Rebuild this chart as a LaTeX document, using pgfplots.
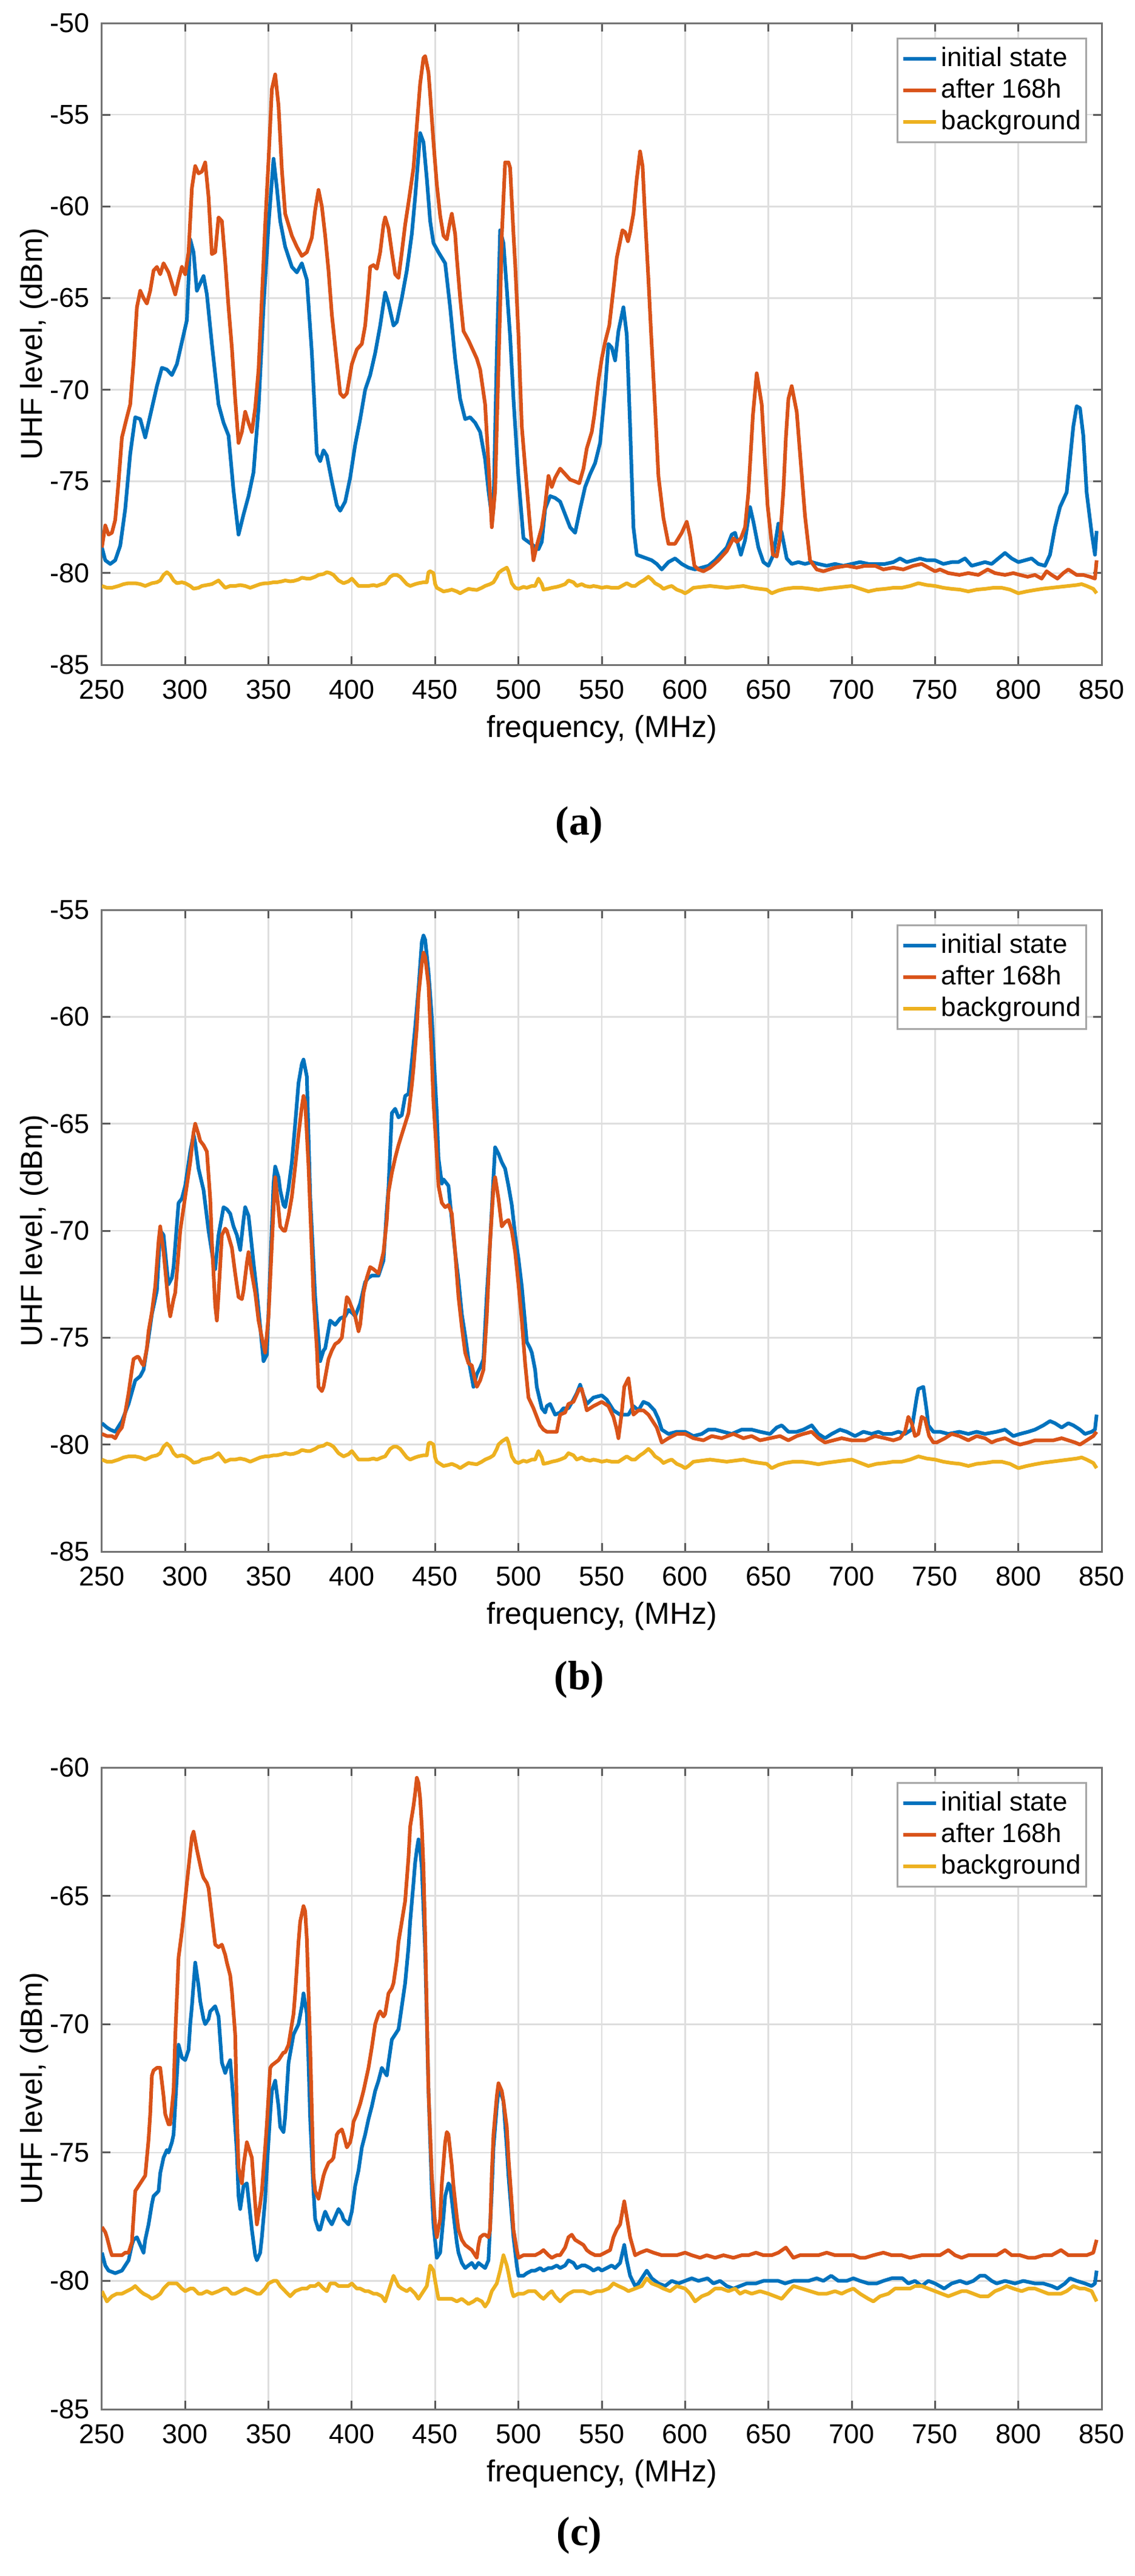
\documentclass[border=0pt]{standalone}
\usepackage{fontspec}
\setmainfont{Liberation Sans}
\newfontfamily\serifbf{Liberation Serif}
\usepackage{pgfplots}
\usepackage{pgfplotstable}
\pgfplotsset{compat=1.18}
\definecolor{mblue}{HTML}{0072BD}
\definecolor{mred}{HTML}{D95319}
\definecolor{myellow}{HTML}{EDB120}

% ---------------- panel (a) ----------------
\pgfplotstableread[row sep=\\]{f v\\
250 -78.6\\ 252 -79.3\\ 255 -79.5\\ 258 -79.3\\ 261 -78.5\\ 264 -76.5\\ 267 -73.5\\ 270 -71.5\\ 273 -71.6\\ 276 -72.6\\
280 -71.0\\ 283 -69.8\\ 286 -68.8\\ 289 -68.9\\ 292 -69.2\\ 295 -68.6\\ 298 -67.4\\ 301 -66.2\\ 303 -61.8\\ 305 -62.5\\
307 -64.6\\ 309 -64.2\\ 311 -63.8\\ 313 -64.8\\ 316 -67.5\\ 320 -70.8\\ 323 -71.8\\ 326 -72.5\\ 329 -75.5\\ 332 -77.9\\
335 -76.8\\ 338 -75.8\\ 341 -74.5\\ 344 -71\\ 347 -65.5\\ 350 -61\\ 353 -57.4\\ 355 -59\\ 357 -60.8\\ 360 -62.2\\
364 -63.3\\ 367 -63.6\\ 370 -63.1\\ 373 -64\\ 376 -68\\ 379 -73.5\\ 381 -73.9\\ 383 -73.3\\ 385 -73.6\\ 388 -75\\
391 -76.3\\ 393 -76.6\\ 396 -76.1\\ 399 -74.8\\ 402 -73\\ 405 -71.6\\ 408 -70\\ 411 -69.2\\ 414 -68\\ 417 -66.5\\
420 -64.7\\ 422 -65.3\\ 425 -66.5\\ 427 -66.3\\ 430 -65\\ 433 -63.5\\ 436 -61.5\\ 438 -59.5\\ 440 -57.2\\ 441 -56\\
443 -56.5\\ 445 -58.5\\ 447 -60.8\\ 449 -62\\ 452 -62.5\\ 456 -63.1\\ 459 -65.5\\ 462 -68.3\\ 465 -70.5\\ 468 -71.6\\
471 -71.5\\ 474 -71.8\\ 477 -72.3\\ 480 -73.8\\ 482 -75.5\\ 484 -76.9\\ 485 -76.5\\ 487 -68\\ 489 -61.3\\ 491 -62\\
493 -64.5\\ 495 -67.1\\ 497 -70.5\\ 500 -74.8\\ 503 -78.1\\ 506 -78.3\\ 509 -78.5\\ 512 -78.7\\ 514 -78.3\\ 516 -76.5\\
519 -75.8\\ 522 -75.9\\ 525 -76.1\\ 528 -76.8\\ 531 -77.5\\ 534 -77.8\\ 537 -76.5\\ 540 -75.3\\ 543 -74.6\\ 546 -74.0\\
549 -72.9\\ 552 -70\\ 554 -67.5\\ 556 -67.7\\ 558 -68.4\\ 560 -66.8\\ 563 -65.5\\ 565 -67\\ 567 -72\\ 569 -77.5\\
571 -79\\ 574 -79.1\\ 577 -79.2\\ 580 -79.3\\ 583 -79.5\\ 586 -79.8\\ 590 -79.4\\ 594 -79.2\\ 598 -79.5\\ 602 -79.7\\
606 -79.8\\ 610 -79.7\\ 614 -79.6\\ 618 -79.3\\ 622 -78.9\\ 625 -78.6\\ 628 -77.9\\ 630 -77.8\\ 632 -78.5\\ 633.5 -79\\
636 -78.2\\ 639 -76.4\\ 641 -77.2\\ 644 -78.6\\ 647 -79.4\\ 650 -79.6\\ 653 -79\\ 656 -77.3\\ 658 -77.8\\ 661 -79.2\\
664 -79.5\\ 668 -79.4\\ 672 -79.5\\ 676 -79.4\\ 680 -79.5\\ 685 -79.6\\ 690 -79.5\\ 695 -79.6\\ 700 -79.5\\ 705 -79.4\\
710 -79.5\\ 715 -79.5\\ 720 -79.5\\ 725 -79.4\\ 729 -79.2\\ 733 -79.4\\ 737 -79.3\\ 741 -79.2\\ 745 -79.3\\ 750 -79.3\\
755 -79.5\\ 760 -79.4\\ 764 -79.4\\ 768 -79.2\\ 772 -79.6\\ 776 -79.5\\ 780 -79.4\\ 784 -79.5\\ 788 -79.2\\ 792 -78.9\\
796 -79.2\\ 800 -79.4\\ 804 -79.3\\ 808 -79.2\\ 812 -79.5\\ 816 -79.6\\ 819 -79.0\\ 822 -77.5\\ 825 -76.4\\ 829 -75.6\\
831 -73.8\\ 833 -72\\ 835 -70.9\\ 837 -71\\ 839 -72.5\\ 841 -75.6\\ 844 -77.8\\ 846 -79\\ 847 -77.7\\
}\aInit

\pgfplotstableread[row sep=\\]{f v\\
250 -78.6\\ 252 -77.4\\ 254 -77.9\\ 256 -77.8\\ 258 -77.1\\ 260 -75\\ 262 -72.6\\ 265 -71.5\\ 267 -70.8\\ 269 -68.5\\
271 -65.5\\ 273 -64.6\\ 275 -65.0\\ 277 -65.3\\ 279 -64.6\\ 281 -63.5\\ 283 -63.3\\ 285 -63.7\\ 287 -63.1\\ 290 -63.6\\
292 -64.2\\ 294 -64.8\\ 296 -64\\ 298 -63.3\\ 300 -63.7\\ 302 -62.5\\ 304 -59\\ 306 -57.8\\ 308 -58.2\\ 310 -58.1\\
312 -57.6\\ 314 -59.5\\ 316 -62.6\\ 318 -62.5\\ 320 -60.6\\ 322 -60.8\\ 324 -63\\ 326 -65.5\\ 328 -67.7\\ 330 -70.5\\
332 -72.9\\ 334 -72.3\\ 336 -71.2\\ 338 -71.8\\ 340 -72.3\\ 342 -71\\ 344 -68.9\\ 346 -65\\ 348 -61\\ 350 -57.5\\
352 -53.6\\ 354 -52.8\\ 356 -54.5\\ 358 -58\\ 360 -60.4\\ 362 -61\\ 364 -61.6\\ 367 -62.2\\ 370 -62.7\\ 373 -62.5\\
376 -61.7\\ 378 -60.2\\ 380 -59.1\\ 382 -60\\ 384 -61.6\\ 386 -63.5\\ 388 -65.9\\ 391 -68.5\\ 393 -70.2\\ 395 -70.4\\
397 -70.2\\ 400 -68.6\\ 403 -67.8\\ 406 -67.5\\ 408 -66.5\\ 410 -64.5\\ 411 -63.3\\ 413 -63.2\\ 415 -63.4\\ 417 -62.5\\
419 -61\\ 420 -60.6\\ 422 -61.2\\ 424 -62.5\\ 426 -63.7\\ 428 -63.9\\ 430 -62.5\\ 432 -61\\ 434 -59.8\\ 437 -57.9\\
439 -55.6\\ 441 -53.3\\ 443 -51.9\\ 444 -51.8\\ 446 -52.7\\ 447 -53.9\\ 449 -56.5\\ 451 -58.8\\ 453 -60.5\\ 455 -61.6\\
457 -61.8\\ 459 -60.8\\ 460 -60.4\\ 462 -61.5\\ 463 -62.8\\ 465 -65\\ 467 -66.8\\ 470 -67.3\\ 472 -67.7\\ 475 -68.3\\
477 -68.9\\ 480 -70.8\\ 482 -74\\ 484 -77.5\\ 486 -75.5\\ 487 -72\\ 489 -65.5\\ 490 -61.6\\ 492 -57.6\\ 494 -57.6\\
495 -57.9\\ 497 -61.5\\ 498 -63.1\\ 500 -67\\ 502 -72\\ 505 -75.3\\ 507 -77.5\\ 509 -79.3\\ 511 -78.5\\ 514 -77.5\\
516 -76.3\\ 518 -74.7\\ 520 -75.3\\ 522 -74.8\\ 525 -74.3\\ 528 -74.6\\ 531 -74.9\\ 534 -75.0\\ 536.5 -75.1\\ 539 -74.3\\
541 -73.2\\ 544 -72.3\\ 545.5 -71.4\\ 548 -69.5\\ 550 -68.3\\ 552 -67.4\\ 554.5 -66.5\\ 557 -64.5\\ 559 -62.8\\ 562.4 -61.3\\
564 -61.4\\ 565.7 -61.9\\ 567 -61.4\\ 569 -60.4\\ 571 -58.5\\ 573 -57\\ 574.5 -57.8\\ 576 -60.6\\ 578 -64\\ 579.7 -67.1\\
582 -71\\ 584 -74.7\\ 587 -77\\ 590 -78.4\\ 594 -78.4\\ 598 -77.8\\ 601 -77.2\\ 603 -78\\ 605.6 -79.6\\ 608 -79.8\\
611 -79.9\\ 615 -79.7\\ 620 -79.3\\ 625 -78.8\\ 629 -78.1\\ 631 -78.3\\ 633.5 -78.1\\ 636 -77.5\\ 638 -75.6\\ 640.7 -71.4\\
643 -69.1\\ 646 -70.8\\ 648 -74\\ 649.5 -76.3\\ 652.7 -79\\ 655 -79.1\\ 657 -78.1\\ 659 -75.5\\ 660.5 -72.6\\ 662 -70.5\\
664 -69.8\\ 667 -71.2\\ 669 -73.5\\ 672 -76.9\\ 675 -79.3\\ 679 -79.8\\ 683 -79.9\\ 690 -79.7\\ 697 -79.6\\ 703 -79.7\\
708 -79.6\\ 714 -79.6\\ 719 -79.8\\ 725 -79.7\\ 731 -79.8\\ 737 -79.6\\ 742 -79.5\\ 746 -79.7\\ 750 -79.9\\ 753 -79.8\\
758 -80\\ 764.6 -80.1\\ 770 -80\\ 776 -80.1\\ 781.6 -79.8\\ 786 -80\\ 792 -80.1\\ 797 -80\\ 801 -80.1\\ 805.6 -80.2\\
810 -80.1\\ 814 -80.3\\ 817 -79.9\\ 820 -80.1\\ 823.5 -80.3\\ 827 -80\\ 830 -79.8\\ 835 -80.1\\ 839 -80.1\\ 843 -80.2\\
846 -80.3\\ 847 -79.3\\
}\aAfter

% background of panels (a) and (b)
\pgfplotstableread[row sep=\\]{f v\\
250 -80.7\\ 253 -80.8\\ 256 -80.8\\ 260 -80.7\\ 263 -80.6\\ 266 -80.55\\ 270 -80.55\\ 273 -80.6\\ 276 -80.7\\ 280 -80.55\\
283 -80.5\\ 285 -80.4\\ 287 -80.1\\ 289 -79.95\\ 291 -80.1\\ 293 -80.4\\ 295 -80.55\\ 298 -80.5\\ 300 -80.55\\ 303 -80.7\\
305 -80.85\\ 308 -80.8\\ 310 -80.7\\ 313 -80.65\\ 316 -80.6\\ 318 -80.5\\ 320 -80.4\\ 322 -80.6\\ 324 -80.8\\ 327 -80.7\\
330 -80.7\\ 333 -80.65\\ 336 -80.7\\ 339 -80.8\\ 342 -80.7\\ 345 -80.6\\ 348 -80.55\\ 350 -80.55\\ 353 -80.5\\ 355 -80.5\\
358 -80.45\\ 360 -80.4\\ 363 -80.45\\ 365 -80.43\\ 368 -80.35\\ 370 -80.25\\ 373 -80.3\\ 375 -80.3\\ 378 -80.2\\ 380 -80.1\\
383 -80.05\\ 385 -79.95\\ 387 -80.0\\ 389 -80.1\\ 392 -80.4\\ 395 -80.55\\ 398 -80.45\\ 400 -80.3\\ 402 -80.5\\ 404 -80.7\\
407 -80.7\\ 410 -80.7\\ 413 -80.65\\ 415 -80.7\\ 418 -80.6\\ 420 -80.55\\ 423 -80.2\\ 425 -80.1\\ 427 -80.1\\ 429 -80.2\\
431 -80.4\\ 433 -80.6\\ 435 -80.7\\ 438 -80.6\\ 440 -80.55\\ 443 -80.5\\ 445 -80.5\\ 446 -79.95\\ 447 -79.9\\ 449 -80.0\\
450 -80.6\\ 451 -80.8\\ 453 -80.9\\ 455 -81.0\\ 458 -80.95\\ 460 -80.9\\ 463 -81.0\\ 465 -81.1\\ 467 -81.0\\ 470 -80.86\\
473 -80.9\\ 475 -80.92\\ 478 -80.8\\ 480 -80.7\\ 483 -80.6\\ 485 -80.5\\ 487 -80.2\\ 488 -80.0\\ 490 -79.85\\ 491 -79.8\\
493 -79.7\\ 494 -79.9\\ 496 -80.55\\ 498 -80.8\\ 500 -80.86\\ 503 -80.75\\ 505 -80.8\\ 508 -80.7\\ 510 -80.7\\ 512 -80.3\\
514 -80.6\\ 515 -80.9\\ 518 -80.85\\ 520 -80.8\\ 523 -80.75\\ 525 -80.7\\ 528 -80.6\\ 530 -80.4\\ 533 -80.5\\ 535 -80.7\\
538 -80.6\\ 540 -80.7\\ 543 -80.75\\ 545 -80.7\\ 548 -80.75\\ 550 -80.8\\ 553 -80.75\\ 556 -80.8\\ 560 -80.8\\ 563 -80.65\\
565 -80.55\\ 568 -80.7\\ 570 -80.7\\ 573 -80.5\\ 575 -80.4\\ 578 -80.2\\ 580 -80.35\\ 582 -80.55\\ 585 -80.7\\ 587 -80.86\\
590 -80.75\\ 592 -80.7\\ 595 -80.9\\ 598 -81.0\\ 600 -81.1\\ 602 -81.0\\ 605 -80.8\\ 610 -80.75\\ 615 -80.7\\ 620 -80.75\\
625 -80.8\\ 630 -80.75\\ 635 -80.7\\ 640 -80.8\\ 645 -80.86\\ 649 -80.9\\ 652 -81.1\\ 656 -80.95\\ 660 -80.86\\ 665 -80.8\\
670 -80.8\\ 675 -80.85\\ 680 -80.92\\ 685 -80.85\\ 690 -80.8\\ 695 -80.75\\ 700 -80.7\\ 705 -80.85\\ 710 -81.0\\ 715 -80.9\\
720 -80.86\\ 725 -80.8\\ 730 -80.8\\ 735 -80.7\\ 740 -80.55\\ 745 -80.65\\ 750 -80.7\\ 755 -80.8\\ 760 -80.86\\ 765 -80.9\\
770 -81.0\\ 775 -80.9\\ 780 -80.86\\ 785 -80.8\\ 790 -80.8\\ 795 -80.9\\ 800 -81.1\\ 805 -81.0\\ 810 -80.92\\ 815 -80.85\\
820 -80.8\\ 825 -80.75\\ 830 -80.7\\ 835 -80.65\\ 838 -80.6\\ 841 -80.7\\ 845 -80.86\\ 847 -81.1\\
}\abBack

% ---------------- panel (b) ----------------
\pgfplotstableread[row sep=\\]{f v\\
250 -79.0\\ 253 -79.2\\ 255 -79.3\\ 258 -79.4\\ 262 -78.9\\ 266 -78.1\\ 270 -77.0\\ 273 -76.8\\ 275 -76.5\\ 278 -75.0\\
280 -73.9\\ 283 -72.8\\ 285 -70.0\\ 287 -70.2\\ 289 -71.8\\ 290 -72.5\\ 292 -72.2\\ 293 -71.7\\ 296 -68.7\\ 298 -68.5\\
300 -67.9\\ 303 -66.3\\ 305 -65.5\\ 306 -65.9\\ 308 -67.1\\ 311 -68.1\\ 314 -70.0\\ 317 -71.5\\ 318 -71.8\\ 320 -70.2\\
323 -68.9\\ 325 -69.0\\ 327 -69.2\\ 329 -69.8\\ 331 -70.2\\ 333 -70.9\\ 335 -69.5\\ 336 -68.9\\ 338 -69.3\\ 339 -70\\
341 -71.5\\ 343 -72.9\\ 345 -74.5\\ 347 -76.1\\ 349 -75.8\\ 351 -71.8\\ 353 -67.8\\ 354 -67.0\\ 356 -67.5\\ 357 -68.1\\
359 -68.8\\ 360 -68.9\\ 362 -68.0\\ 364 -66.8\\ 366 -65\\ 368 -63.1\\ 370 -62.2\\ 371 -62.0\\ 373 -62.8\\ 375 -68.4\\
377 -71.5\\ 378 -73.1\\ 381 -76.1\\ 383 -75.6\\ 384 -75.5\\ 387 -74.2\\ 390 -74.4\\ 393 -74.1\\ 396 -74.0\\ 398 -73.7\\
401 -73.9\\ 402 -74.0\\ 405 -73.4\\ 408 -72.4\\ 410 -72.2\\ 412 -72.1\\ 416 -72.1\\ 419 -71.4\\ 421 -69.0\\ 422 -68.0\\
424 -64.5\\ 426 -64.3\\ 428 -64.7\\ 430 -64.6\\ 432 -63.7\\ 434 -63.6\\ 436 -62.1\\ 438 -60.5\\ 440 -58.7\\ 442 -56.5\\
443 -56.2\\ 444 -56.4\\ 446 -57.9\\ 448 -60\\ 449 -61.6\\ 451 -64.5\\ 452 -66.6\\ 454 -67.8\\ 455 -67.6\\ 457 -67.8\\
458 -67.9\\ 460 -69.5\\ 462 -71.0\\ 464 -72.3\\ 466 -73.9\\ 468 -74.9\\ 470 -76.0\\ 473 -77.3\\ 475 -76.7\\ 477 -76.4\\
479 -76.0\\ 481 -73\\ 483 -70.5\\ 485 -67.5\\ 486 -66.1\\ 488 -66.4\\ 490 -66.8\\ 492 -67.1\\ 494 -67.9\\ 496 -68.8\\
498 -70.2\\ 500 -71.3\\ 502 -72.6\\ 505 -75.2\\ 507 -75.5\\ 508 -75.7\\ 510 -76.5\\ 511 -77.3\\ 514 -78.3\\ 516 -78.5\\
517 -78.2\\ 519 -78.1\\ 522 -78.6\\ 525 -78.5\\ 527 -78.3\\ 530 -78.3\\ 533 -77.9\\ 535 -77.6\\ 537 -77.2\\ 539 -77.7\\
541 -78.1\\ 545 -77.8\\ 550 -77.7\\ 553 -77.9\\ 557 -78.4\\ 561 -78.6\\ 564 -78.6\\ 566 -78.6\\ 569 -78.2\\ 572 -78.4\\
575 -78.0\\ 578 -78.1\\ 581.6 -78.4\\ 584 -78.8\\ 586 -79.3\\ 590 -79.5\\ 595 -79.4\\ 600 -79.4\\ 605 -79.6\\ 610 -79.5\\
614 -79.3\\ 618 -79.3\\ 623 -79.4\\ 628 -79.5\\ 634 -79.3\\ 640 -79.3\\ 645 -79.4\\ 651 -79.5\\ 655 -79.2\\ 658 -79.1\\
662 -79.4\\ 667 -79.4\\ 671 -79.3\\ 676 -79.1\\ 680 -79.5\\ 684 -79.7\\ 688 -79.5\\ 693 -79.3\\ 697 -79.4\\ 702 -79.6\\
707 -79.4\\ 712 -79.5\\ 716 -79.4\\ 719 -79.5\\ 724 -79.5\\ 728 -79.4\\ 732 -79.5\\ 736 -79.3\\ 739 -77.8\\ 740 -77.4\\
743 -77.3\\ 745 -78.4\\ 746 -79.1\\ 749 -79.4\\ 753 -79.4\\ 758 -79.5\\ 764.6 -79.4\\ 770 -79.5\\ 775 -79.4\\ 780 -79.5\\
787 -79.4\\ 792 -79.3\\ 797 -79.6\\ 801 -79.5\\ 806 -79.4\\ 810 -79.3\\ 815 -79.1\\ 819 -78.9\\ 822 -79.0\\ 826 -79.2\\
830 -79.0\\ 833 -79.1\\ 837 -79.3\\ 840 -79.5\\ 844 -79.4\\ 846 -79.3\\ 847 -78.6\\
}\bInit

\pgfplotstableread[row sep=\\]{f v\\
250 -79.5\\ 253 -79.6\\ 256 -79.6\\ 258 -79.7\\ 260 -79.4\\ 262 -79.2\\ 264 -78.5\\ 266 -77.6\\ 268 -76.5\\ 269 -76.0\\
271 -75.9\\ 272 -75.9\\ 274 -76.2\\ 275 -76.3\\ 277 -75.5\\ 278 -74.7\\ 280 -73.8\\ 282 -72.6\\ 284 -70.5\\ 285 -69.8\\
287 -71\\ 288 -71.8\\ 290 -73.5\\ 291 -74.0\\ 293 -73.2\\ 294 -72.9\\ 296 -71.0\\ 297 -70.0\\ 300 -68.4\\ 303 -66.8\\
305 -65.4\\ 306 -65.0\\ 308 -65.5\\ 309 -65.8\\ 311 -66.0\\ 313 -66.3\\ 315 -68.5\\ 316 -70.5\\ 318 -73.5\\ 319 -74.2\\
320 -73.0\\ 322 -70.2\\ 324 -69.9\\ 325 -70.0\\ 328 -70.8\\ 330 -72\\ 332 -73.1\\ 334 -73.2\\ 335 -72.8\\ 337 -71.5\\
338 -71.0\\ 340 -72.0\\ 342 -72.9\\ 344 -74.2\\ 346 -75.0\\ 348 -75.7\\ 350 -74\\ 351 -72.3\\ 353 -69\\ 354 -67.5\\
356 -69\\ 357 -69.8\\ 359 -70.0\\ 360 -70.0\\ 362 -69.3\\ 364 -68.4\\ 366 -67\\ 368 -65.5\\ 370 -64.2\\ 371 -63.7\\
372 -64\\ 374 -67\\ 376 -71\\ 377 -73.1\\ 379 -75.5\\ 380 -77.3\\ 382 -77.5\\ 383 -77.3\\ 386 -76.0\\ 388 -75.6\\
390 -75.3\\ 392 -75.2\\ 394 -75.0\\ 397 -73.1\\ 398 -73.2\\ 400 -73.6\\ 402 -74.0\\ 404 -74.7\\ 405 -74.4\\ 407 -72.9\\
409 -72.2\\ 411 -71.7\\ 413 -71.8\\ 416 -72.0\\ 419 -71.0\\ 421 -69.5\\ 422 -68.2\\ 424 -67.3\\ 426 -66.6\\ 428 -66\\
430 -65.5\\ 432 -65\\ 434 -64.5\\ 436 -63.2\\ 437 -62.4\\ 439 -60.5\\ 440 -59.0\\ 442 -57.5\\ 443 -57.0\\ 444 -57.2\\
446 -58.5\\ 448 -62\\ 449 -64.0\\ 451 -66.5\\ 452 -67.9\\ 454 -68.7\\ 456 -68.9\\ 458 -68.8\\ 460 -69.2\\ 462 -71\\
464 -73.1\\ 466 -74.5\\ 468 -75.7\\ 470 -76.2\\ 472 -76.3\\ 474 -77\\ 475 -77.3\\ 477 -77.0\\ 479 -76.5\\ 481 -74\\
483 -70.5\\ 485 -68\\ 486 -67.5\\ 488 -68.5\\ 490 -69.8\\ 492 -69.6\\ 494 -69.5\\ 496 -70\\ 498 -71.0\\ 500 -72.5\\
502 -74.2\\ 504 -76.2\\ 506 -77.8\\ 509 -78.3\\ 511 -78.7\\ 513 -79.1\\ 515 -79.3\\ 517 -79.4\\ 520 -79.4\\ 523 -79.4\\
525 -78.6\\ 528 -78.5\\ 530 -78.1\\ 533 -78.0\\ 536.5 -77.4\\ 538 -77.4\\ 541 -78.4\\ 545 -78.2\\ 550 -78.0\\ 554 -78.2\\
557 -78.7\\ 559 -79.3\\ 560 -79.7\\ 562 -78.5\\ 563.5 -77.3\\ 566 -76.9\\ 567.5 -77.8\\ 569 -78.6\\ 572 -78.4\\ 575 -78.4\\
578 -78.6\\ 580.5 -78.9\\ 583 -79.2\\ 586 -79.9\\ 590 -79.7\\ 595 -79.5\\ 600 -79.5\\ 605 -79.7\\ 611 -79.8\\ 616 -79.6\\
622 -79.7\\ 629 -79.5\\ 635 -79.7\\ 640 -79.6\\ 645 -79.8\\ 651 -79.7\\ 657 -79.6\\ 662 -79.8\\ 667 -79.6\\ 671 -79.5\\
676 -79.4\\ 680 -79.7\\ 684 -79.9\\ 689 -79.8\\ 694 -79.7\\ 700 -79.8\\ 708 -79.8\\ 714 -79.6\\ 720 -79.7\\ 725 -79.8\\
729 -79.7\\ 732 -79.4\\ 734 -78.7\\ 736 -79.0\\ 738 -79.6\\ 740 -79.5\\ 742 -78.7\\ 744 -78.8\\ 746.5 -79.6\\ 749 -79.9\\
751 -79.9\\ 756 -79.7\\ 760 -79.5\\ 764.6 -79.6\\ 770 -79.8\\ 775 -79.6\\ 780 -79.7\\ 784 -79.9\\ 787 -79.8\\ 792 -79.7\\
797 -79.9\\ 801 -80.0\\ 806 -79.9\\ 810 -79.8\\ 815 -79.8\\ 821 -79.8\\ 826 -79.7\\ 830 -79.8\\ 834 -79.9\\ 837 -80.0\\
841 -79.8\\ 845 -79.6\\ 847 -79.4\\
}\bAfter

% ---------------- panel (c) ----------------
\pgfplotstableread[row sep=\\]{f v\\
250 -78.9\\ 252 -79.4\\ 254 -79.6\\ 258 -79.7\\ 262 -79.6\\ 264 -79.4\\ 266 -79.2\\ 268 -78.6\\ 269 -78.4\\ 271 -78.3\\
273 -78.6\\ 275 -78.9\\ 276 -78.4\\ 278 -77.8\\ 280 -77.0\\ 281 -76.7\\ 284 -76.5\\ 285 -75.8\\ 287 -75.2\\ 289 -74.9\\
290 -75.0\\ 292 -74.6\\ 293 -74.3\\ 295 -72\\ 296 -70.8\\ 298 -71.3\\ 300 -71.4\\ 302 -71.0\\ 303 -70.0\\ 304 -69.3\\
306 -67.6\\ 308 -68.5\\ 309 -69.1\\ 311 -69.8\\ 312 -70.0\\ 314 -69.8\\ 315 -69.5\\ 318 -69.3\\ 320 -69.7\\ 322 -71.5\\
324 -71.9\\ 325 -71.7\\ 327 -71.4\\ 329 -73.0\\ 331 -75\\ 332 -76.7\\ 333 -77.2\\ 335 -76.3\\ 337 -76.2\\ 338 -76.8\\
340 -78.0\\ 342 -79.0\\ 343 -79.2\\ 345 -78.9\\ 346 -78.3\\ 348 -76.8\\ 349 -75.6\\ 351 -73.5\\ 352 -72.6\\ 354 -72.2\\
356 -73.2\\ 357 -74.0\\ 359 -74.2\\ 360 -73.6\\ 362 -71.5\\ 365 -70.4\\ 368 -70.0\\ 370 -69.3\\ 371 -68.8\\ 373 -69.6\\
374 -71.5\\ 375 -73.7\\ 377 -76.5\\ 378 -77.6\\ 380 -78.0\\ 381 -78.0\\ 383 -77.5\\ 384 -77.3\\ 386 -77.6\\ 388 -77.8\\
390 -77.5\\ 392 -77.2\\ 394 -77.4\\ 395 -77.6\\ 398 -77.8\\ 400 -77.3\\ 402 -76.3\\ 404 -75.7\\ 406 -74.8\\ 408 -74.3\\
410 -73.7\\ 412 -73.2\\ 414 -72.6\\ 416 -72.2\\ 418 -71.7\\ 420 -71.9\\ 421 -72.0\\ 422 -71.5\\ 424 -70.6\\ 426 -70.4\\
428 -70.2\\ 430 -69.3\\ 432 -68.4\\ 434 -67.0\\ 435 -66.0\\ 437 -64.5\\ 438 -63.7\\ 439 -63.2\\ 440 -62.8\\ 441 -63.2\\
442 -63.9\\ 443 -65.5\\ 444 -67.2\\ 446 -72.6\\ 448 -76.5\\ 449 -77.8\\ 451 -79.1\\ 453 -78.9\\ 455 -77.5\\ 456 -76.7\\
458 -76.2\\ 459 -76.3\\ 461 -77.4\\ 463 -78.5\\ 464 -78.9\\ 466 -79.3\\ 468 -79.5\\ 470 -79.4\\ 472 -79.3\\ 474 -79.5\\
476 -79.3\\ 478 -79.4\\ 480 -79.5\\ 482 -79.2\\ 484 -76.5\\ 485 -74.8\\ 487 -73.2\\ 488 -72.6\\ 490 -72.8\\ 491 -73.0\\
493 -74.8\\ 494 -75.9\\ 496 -77.5\\ 497 -78.3\\ 499 -79.4\\ 500 -79.8\\ 503 -79.8\\ 505 -79.7\\ 508 -79.6\\ 510 -79.6\\
513 -79.5\\ 515 -79.6\\ 518 -79.5\\ 520 -79.5\\ 523 -79.4\\ 525 -79.5\\ 528 -79.4\\ 530 -79.2\\ 533 -79.3\\ 535 -79.5\\
538 -79.4\\ 540 -79.4\\ 543 -79.5\\ 545 -79.6\\ 548 -79.5\\ 550 -79.6\\ 553 -79.5\\ 556 -79.4\\ 558 -79.5\\ 561 -79.3\\
563.5 -78.6\\ 565 -79.2\\ 567 -79.8\\ 570 -80.2\\ 572 -80.1\\ 575 -79.8\\ 577 -79.6\\ 580 -79.9\\ 584 -80.1\\ 588 -80.2\\
592 -80.0\\ 596 -80.1\\ 600 -80.0\\ 604 -79.9\\ 608 -80.0\\ 613.5 -79.9\\ 617 -80.1\\ 621 -80.0\\ 625 -80.2\\ 629 -80.3\\
633 -80.2\\ 637 -80.1\\ 642.5 -80.1\\ 647 -80.0\\ 651 -80.0\\ 656 -80.0\\ 660 -80.1\\ 665 -80.0\\ 670 -80.0\\ 674 -80.0\\
679 -79.9\\ 683 -80.0\\ 687.7 -79.8\\ 692 -80.0\\ 697 -80.0\\ 701 -79.9\\ 705 -80.0\\ 710 -80.1\\ 715 -80.1\\ 719 -80.0\\
724 -79.9\\ 730.5 -79.9\\ 734 -80.1\\ 738 -80.0\\ 742 -80.2\\ 746 -80.0\\ 750 -80.1\\ 755.5 -80.3\\ 760 -80.1\\ 765 -80.0\\
769 -80.1\\ 773 -80.0\\ 777 -79.8\\ 780 -79.8\\ 784 -80.0\\ 787 -80.1\\ 792 -80.0\\ 798 -80.1\\ 803 -80.0\\ 810 -80.1\\
815 -80.1\\ 820 -80.2\\ 823.5 -80.3\\ 828 -80.1\\ 831 -79.9\\ 835 -80.0\\ 840 -80.1\\ 844 -80.2\\ 846 -80.1\\ 847 -79.6\\
}\cInit

\pgfplotstableread[row sep=\\]{f v\\
250 -77.9\\ 252 -78.1\\ 253 -78.3\\ 255 -78.8\\ 256 -79.0\\ 259 -79.0\\ 262 -79.0\\ 264 -78.9\\ 266 -78.9\\ 268 -78.5\\
270 -76.5\\ 271 -76.4\\ 273 -76.2\\ 275 -76.0\\ 276 -75.9\\ 278 -74.5\\ 279 -73.5\\ 280 -72.0\\ 281 -71.8\\ 283 -71.7\\
285 -71.7\\ 287 -72.8\\ 288 -73.5\\ 290 -73.9\\ 291 -73.9\\ 293 -72.6\\ 294 -70.5\\ 296 -67.4\\ 298 -66.4\\ 299 -65.8\\
301 -64.5\\ 302 -63.9\\ 304 -62.7\\ 305 -62.5\\ 307 -63.2\\ 308 -63.5\\ 310 -64.1\\ 311 -64.3\\ 313 -64.5\\ 314 -64.7\\
316 -65.8\\ 318 -66.9\\ 320 -67.0\\ 322 -66.9\\ 324 -67.3\\ 325 -67.6\\ 327 -68.1\\ 328 -68.7\\ 330 -70.4\\ 331 -73.5\\
332 -75.6\\ 334 -76.2\\ 335 -75.5\\ 337 -74.6\\ 338 -74.8\\ 340 -75.2\\ 342 -77.0\\ 343 -77.8\\ 345 -77.0\\ 346 -76.5\\
348 -74.8\\ 349 -73.9\\ 351 -71.7\\ 352 -71.6\\ 354 -71.5\\ 356 -71.4\\ 357 -71.3\\ 359 -71.1\\ 360 -71.1\\ 362 -70.8\\
363 -70.4\\ 365 -69.6\\ 366 -68.8\\ 368 -66.8\\ 369 -66.0\\ 371 -65.4\\ 372 -65.6\\ 373 -66.7\\ 375 -70.9\\ 377 -75.9\\
378 -76.5\\ 380 -76.8\\ 381 -76.5\\ 383 -75.9\\ 384 -75.7\\ 386 -75.4\\ 388 -75.3\\ 389 -75.2\\ 391 -74.3\\ 392 -74.2\\
394 -74.1\\ 395 -74.3\\ 397 -74.8\\ 399 -74.6\\ 400 -74.3\\ 401 -73.8\\ 403 -73.5\\ 405 -73.1\\ 407 -72.6\\ 409 -72.0\\
410 -71.7\\ 412 -70.9\\ 414 -70.0\\ 416 -69.6\\ 417 -69.5\\ 419 -69.7\\ 420 -69.6\\ 422 -68.8\\ 424 -68.6\\ 425 -68.4\\
427 -67.5\\ 428 -66.8\\ 430 -66.0\\ 432 -65.2\\ 434 -63.5\\ 435 -62.3\\ 436 -61.9\\ 437 -61.5\\ 438 -61.0\\ 439 -60.4\\
440 -60.6\\ 441 -61.2\\ 442 -62.3\\ 443 -63.9\\ 444 -66.5\\ 446 -72.6\\ 448 -75.9\\ 450 -77.8\\ 451 -78.3\\ 453 -77.6\\
454 -76.2\\ 456 -74.6\\ 457 -74.2\\ 458 -74.3\\ 460 -75.5\\ 461 -76.3\\ 463 -77.5\\ 464 -78.0\\ 466 -78.4\\ 468 -78.6\\
470 -78.7\\ 472 -78.8\\ 474 -79.0\\ 475 -79.1\\ 476 -78.6\\ 477 -78.3\\ 479 -78.2\\ 480 -78.2\\ 482 -78.3\\ 483 -78.0\\
484 -75.8\\ 485 -74.3\\ 487 -72.8\\ 488 -72.3\\ 490 -72.6\\ 491 -73.0\\ 493 -74.0\\ 494 -75.2\\ 496 -77.0\\ 497 -78.0\\
499 -78.8\\ 500 -79.1\\ 503 -79.0\\ 505 -79.0\\ 508 -79.0\\ 510 -79.0\\ 513 -78.9\\ 515 -78.8\\ 518 -79.0\\ 520 -79.1\\
523 -79.0\\ 525 -79.0\\ 528 -78.7\\ 530 -78.3\\ 532 -78.2\\ 534 -78.4\\ 536.5 -78.5\\ 539 -78.6\\ 541 -78.8\\ 543 -78.9\\
546 -79.0\\ 549 -79.0\\ 552 -78.9\\ 555 -78.8\\ 557 -78.3\\ 559 -78.0\\ 561 -77.8\\ 563.5 -76.9\\ 565 -77.5\\ 567 -78.3\\
570 -79.0\\ 573 -78.9\\ 577 -78.8\\ 581 -78.9\\ 586 -79.0\\ 590 -79.0\\ 595 -79.0\\ 600 -78.9\\ 604 -79.0\\ 609 -79.1\\
613 -79.0\\ 618 -79.1\\ 623 -79.0\\ 629 -79.1\\ 634 -79.0\\ 638 -79.0\\ 642.5 -78.9\\ 647 -79.0\\ 652 -79.0\\ 656 -78.9\\
660.5 -78.7\\ 665 -79.1\\ 669 -79.0\\ 674 -79.0\\ 680 -79.0\\ 685 -78.9\\ 690 -79.0\\ 695 -79.0\\ 701 -79.0\\ 705 -79.1\\
708 -79.1\\ 713 -79.0\\ 719 -78.9\\ 724 -79.0\\ 730 -79.0\\ 735 -79.1\\ 742 -79.0\\ 747 -79.0\\ 753 -79.0\\ 758 -78.8\\
762 -79.0\\ 766 -79.1\\ 770 -79.0\\ 776 -79.0\\ 781 -79.0\\ 787 -79.0\\ 792 -78.8\\ 796 -79.0\\ 801 -79.0\\ 806 -79.1\\
810 -79.1\\ 815 -79.0\\ 820 -79.0\\ 825.6 -78.8\\ 830 -79.0\\ 837 -79.0\\ 841 -79.0\\ 845 -78.9\\ 847 -78.4\\
}\cAfter

\pgfplotstableread[row sep=\\]{f v\\
250 -80.4\\ 253 -80.8\\ 256 -80.6\\ 259 -80.5\\ 262 -80.5\\ 265 -80.4\\ 268 -80.3\\ 270 -80.2\\ 273 -80.4\\ 275 -80.5\\
278 -80.6\\ 280 -80.7\\ 283 -80.6\\ 285 -80.5\\ 287 -80.3\\ 290 -80.1\\ 293 -80.1\\ 295 -80.1\\ 298 -80.3\\ 300 -80.4\\
303 -80.3\\ 305 -80.3\\ 308 -80.5\\ 310 -80.5\\ 313 -80.4\\ 316 -80.5\\ 320 -80.4\\ 323 -80.3\\ 325 -80.3\\ 328 -80.5\\
330 -80.5\\ 333 -80.4\\ 336 -80.3\\ 340 -80.4\\ 343 -80.5\\ 345 -80.5\\ 348 -80.3\\ 350 -80.1\\ 353 -80.0\\ 355 -80.0\\
357 -80.2\\ 360 -80.4\\ 363 -80.6\\ 366 -80.4\\ 370 -80.3\\ 373 -80.3\\ 375 -80.2\\ 378 -80.2\\ 380 -80.1\\ 383 -80.3\\
385 -80.4\\ 387 -80.1\\ 390 -80.1\\ 392 -80.2\\ 395 -80.2\\ 398 -80.2\\ 400 -80.1\\ 403 -80.3\\ 405 -80.3\\ 408 -80.4\\
410 -80.4\\ 413 -80.5\\ 415 -80.5\\ 418 -80.6\\ 420 -80.8\\ 422 -80.4\\ 425 -79.8\\ 428 -80.2\\ 430 -80.3\\ 433 -80.4\\
435 -80.3\\ 438 -80.5\\ 440 -80.7\\ 443 -80.4\\ 445 -80.2\\ 447 -79.4\\ 449 -79.6\\ 450 -80.0\\ 452 -80.7\\ 455 -80.7\\
458 -80.7\\ 460 -80.7\\ 463 -80.8\\ 466 -80.7\\ 470 -80.9\\ 473 -80.8\\ 475 -80.7\\ 478 -80.8\\ 480 -81.0\\ 482 -80.8\\
484 -80.4\\ 487 -80.1\\ 489 -79.6\\ 491 -79.0\\ 493 -79.4\\ 494 -79.7\\ 496 -80.4\\ 497 -80.6\\ 500 -80.5\\ 503 -80.5\\
506 -80.4\\ 510 -80.4\\ 513 -80.6\\ 515 -80.7\\ 518 -80.5\\ 520 -80.4\\ 522 -80.6\\ 525 -80.8\\ 528 -80.6\\ 530 -80.5\\
533 -80.4\\ 536 -80.4\\ 539 -80.4\\ 543 -80.5\\ 547 -80.4\\ 550 -80.4\\ 554 -80.3\\ 557 -80.1\\ 560 -80.2\\ 563.5 -80.3\\
566 -80.4\\ 570 -80.3\\ 574 -80.2\\ 577 -79.9\\ 580 -80.1\\ 584 -80.2\\ 587 -80.3\\ 591 -80.4\\ 595 -80.2\\ 600 -80.3\\
603 -80.5\\ 606 -80.8\\ 610 -80.6\\ 614 -80.5\\ 618 -80.3\\ 622 -80.3\\ 626 -80.4\\ 630 -80.3\\ 633 -80.5\\ 636 -80.4\\
640 -80.5\\ 645 -80.4\\ 650 -80.5\\ 654 -80.6\\ 658 -80.7\\ 662 -80.4\\ 665 -80.2\\ 670 -80.3\\ 675 -80.4\\ 680 -80.5\\
685 -80.5\\ 690 -80.4\\ 694 -80.5\\ 697 -80.4\\ 701 -80.3\\ 705 -80.5\\ 710 -80.7\\ 713 -80.8\\ 717 -80.6\\ 722 -80.5\\
726 -80.3\\ 730.5 -80.3\\ 735 -80.3\\ 738 -80.2\\ 742 -80.2\\ 746 -80.3\\ 750 -80.4\\ 754 -80.5\\ 758 -80.6\\ 762 -80.5\\
766 -80.4\\ 769 -80.4\\ 773 -80.5\\ 777 -80.6\\ 782 -80.6\\ 786 -80.4\\ 790 -80.3\\ 793 -80.2\\ 797 -80.3\\ 802 -80.4\\
806 -80.3\\ 810 -80.3\\ 814 -80.4\\ 818 -80.5\\ 822 -80.5\\ 825.6 -80.5\\ 829 -80.4\\ 833 -80.2\\ 837 -80.3\\ 840 -80.3\\
844 -80.4\\ 847 -80.8\\
}\cBack

\pgfplotsset{
  panel/.style={
    scale only axis, width=329.6pt, height=211.6pt,
    anchor=south west,
    xmin=250, xmax=850, xtick={250,300,...,850},
    ymin=-85,
    grid=major,
    major grid style={color=black!13, line width=0.5pt},
    axis line style={black!55, line width=0.6pt},
    tick style={black!65, line width=0.6pt},
    tick align=inside, tick pos=both, major tick length=2.8pt,
    /pgf/number format/assume math mode=true,
    ticklabel style={font=\fontsize{9}{10}\selectfont},
    yticklabel style={xshift=-0.5pt},
    xticklabel style={yshift=-1.5pt},
    xlabel={frequency, (MHz)},
    ylabel={UHF level, (dBm)},
    every axis x label/.style={at={(axis description cs:0.5,0)}, anchor=center, yshift=-21.4pt, font=\fontsize{10}{12}\selectfont},
    every axis y label/.style={at={(axis description cs:0,0.5)}, xshift=-22.2pt, rotate=90, anchor=center, font=\fontsize{10}{12}\selectfont},
    legend style={at={(0.9854,0.977)}, anchor=north east, draw=black!35, line width=0.5pt, fill=white,
      font=\fontsize{8.8}{10}\selectfont, inner xsep=1.2pt, inner ysep=1.5pt, row sep=0pt,
      nodes={inner sep=0.6pt, text height=7pt, text depth=2.2pt},
      /tikz/every odd column/.append style={column sep=0.6pt}},
    legend cell align=left,
    legend image code/.code={\draw[#1, line width=1.2pt] (0pt,0pt) -- (10.8pt,0pt);},
    every axis plot/.append style={line width=1.2pt, line join=round},
  }
}

\begin{document}
\begin{tikzpicture}
\path[use as bounding box] (0,0) rectangle (374.2pt,-849.4pt);

\begin{axis}[panel, at={(33.6pt,-219.2pt)}, ymax=-50, ytick={-85,-80,...,-50}]
\addplot[mblue] table[x=f,y=v] {\aInit};
\addplot[mred] table[x=f,y=v] {\aAfter};
\addplot[myellow] table[x=f,y=v] {\abBack};
\legend{initial state, after 168h, background}
\end{axis}

\begin{axis}[panel, at={(33.6pt,-511.6pt)}, ymax=-55, ytick={-85,-80,...,-55}]
\addplot[mblue] table[x=f,y=v] {\bInit};
\addplot[mred] table[x=f,y=v] {\bAfter};
\addplot[myellow] table[x=f,y=v] {\abBack};
\legend{initial state, after 168h, background}
\end{axis}

\begin{axis}[panel, at={(33.6pt,-794.4pt)}, ymax=-60, ytick={-85,-80,...,-60}]
\addplot[mblue] table[x=f,y=v] {\cInit};
\addplot[mred] table[x=f,y=v] {\cAfter};
\addplot[myellow] table[x=f,y=v] {\cBack};
\legend{initial state, after 168h, background}
\end{axis}

\node[font=\fontsize{13.5}{15}\selectfont\serifbf\bfseries] at (191pt,-272pt) {(a)};
\node[font=\fontsize{13.5}{15}\selectfont\serifbf\bfseries] at (191pt,-553.8pt) {(b)};
\node[font=\fontsize{13.5}{15}\selectfont\serifbf\bfseries] at (191pt,-836pt) {(c)};
\end{tikzpicture}
\end{document}
